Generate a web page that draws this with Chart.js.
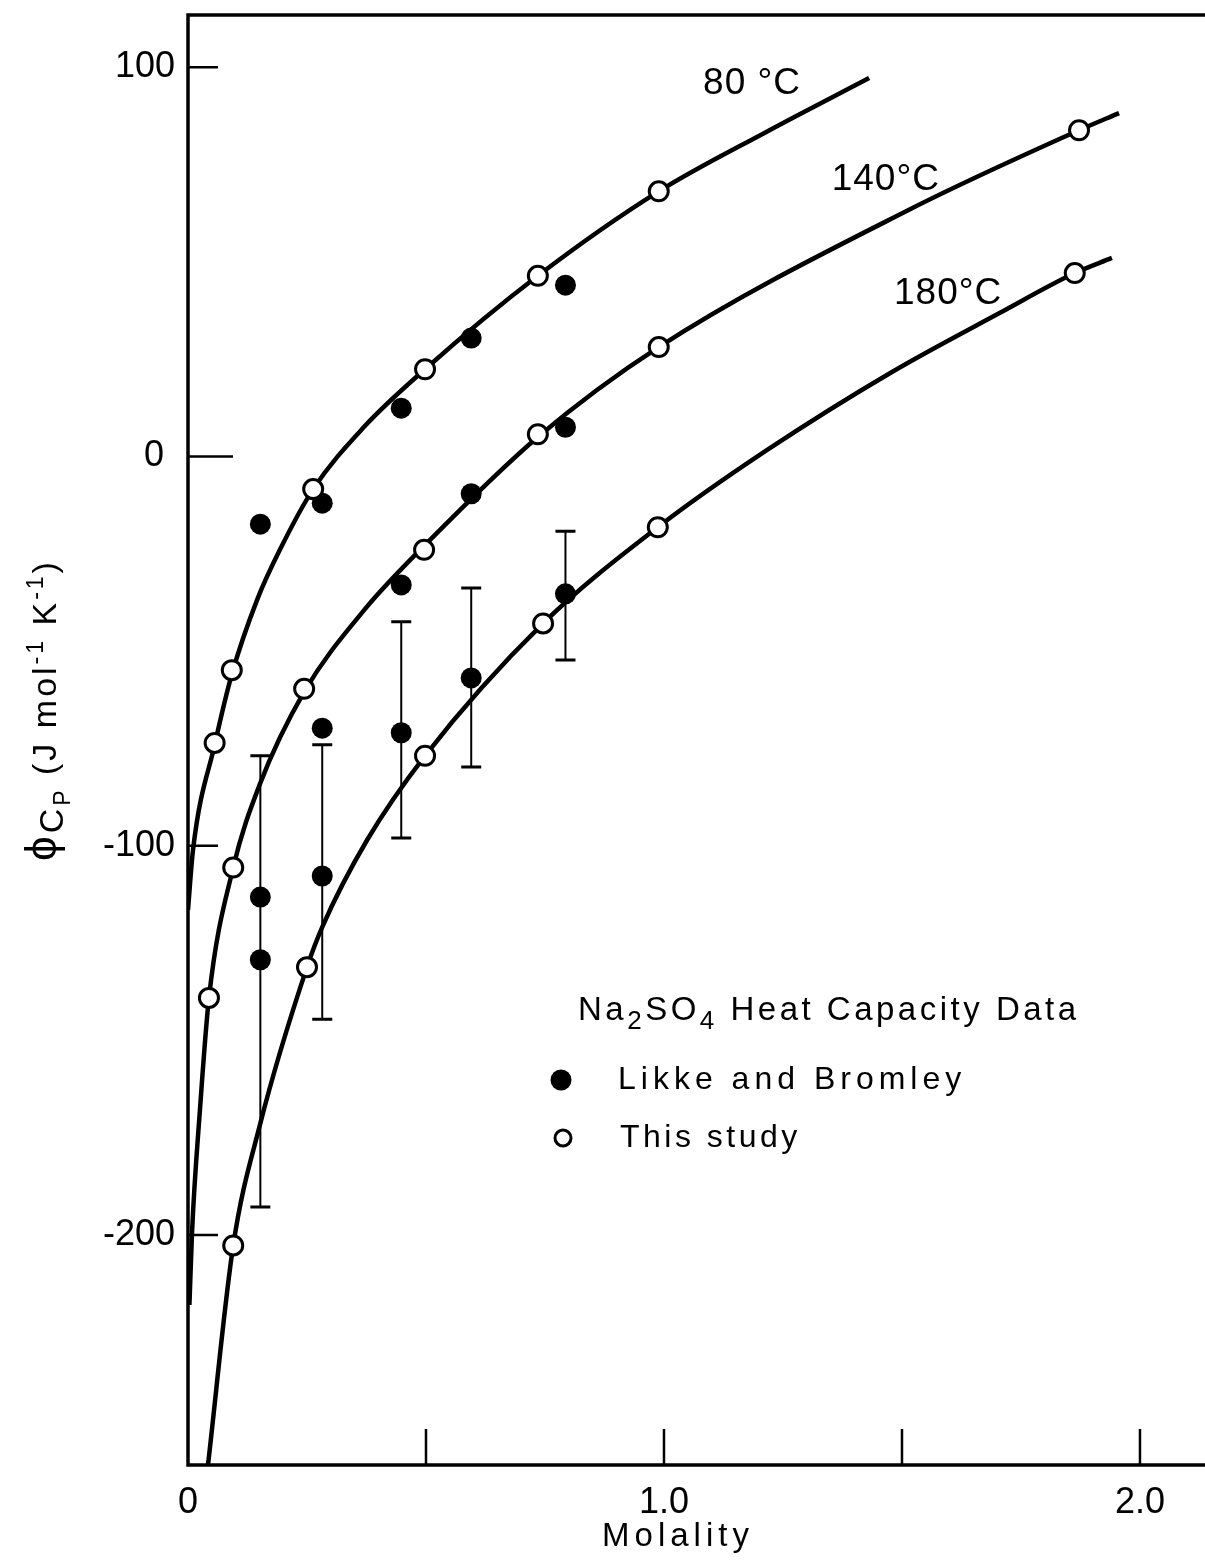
<!DOCTYPE html>
<html>
<head>
<meta charset="utf-8">
<title>Na2SO4 heat capacity</title>
<script src="https://cdn.jsdelivr.net/npm/chart.js@4.4.0/dist/chart.umd.min.js"></script>
<style>
  html, body { margin: 0; padding: 0; background: #fff; }
  #chart { display: block; }
</style>
</head>
<body>
<canvas id="chart" width="1205" height="1561" style="width:1205px;height:1561px"></canvas>
<script>
// this study (open circles)
const m80 = [0.056, 0.092, 0.263, 0.498, 0.735, 0.989];
const cp80 = [-73.6, -54.9, -8.4, 22.4, 46.4, 68.1];
const m140 = [0.044, 0.095, 0.244, 0.496, 0.735, 0.989, 1.872];
const cp140 = [-139.1, -105.6, -59.7, -24.0, 5.7, 28.1, 83.8];
const m180 = [0.095, 0.250, 0.498, 0.746, 0.987, 1.863];
const cp180 = [-202.7, -131.2, -76.9, -42.9, -18.2, 47.1];

// Likke and Bromley (filled circles)
const mLB = [0.152, 0.282, 0.448, 0.595, 0.793];
const lb80 = [-17.4, -12.0, 12.4, 30.4, 44.0];
const lb140 = [-113.2, -69.8, -33.0, -9.6, 7.5];
const lb180 = [-129.3, -107.8, -71.0, -56.9, -35.3];
const lb180Low = [-192.8, -144.6, -98.0, -79.8, -52.3];
const lb180High = [-76.9, -74.1, -42.5, -33.8, -19.2];

// fitted curves
const fitX80 = [0.0, 0.0105, 0.057, 0.092, 0.145, 0.193, 0.263, 0.37, 0.498, 0.735, 0.989, 1.214, 1.431];
const fitY80 = [-116.5, -101.1, -73.6, -56.0, -36.9, -24.0, -8.4, 7.6, 22.4, 46.4, 68.1, 83.3, 97.2];
const fitX140 = [0.003, 0.0084, 0.025, 0.044, 0.095, 0.151, 0.244, 0.37, 0.496, 0.735, 0.989, 1.517, 1.872, 1.956];
const fitY140 = [-218.0, -199.5, -168.0, -139.1, -105.6, -84.2, -60.5, -39.5, -23.0, 5.0, 28.1, 63.5, 83.8, 88.2];
const fitX180 = [0.042, 0.095, 0.151, 0.250, 0.282, 0.376, 0.498, 0.746, 0.987, 1.216, 1.479, 1.706, 1.863, 1.941];
const fitY180 = [-259.1, -202.7, -171.8, -131.2, -120.9, -98.6, -76.9, -42.9, -18.2, 1.6, 21.7, 36.9, 47.1, 51.0];

// axes
const tickX = [0.5, 1.0, 1.5, 2.0];
const tickY = [100, 0, -100, -200];
const labelXVals = [0, 1.0, 2.0];
const labelsX = ['0', '1.0', '2.0'];
const labelsY = ['100', '0', '-100', '-200'];

// curve names
const curveNames = ['80 °C', '140°C', '180°C'];
const curveNameX = [1.185, 1.466, 1.597];
const curveNameY = [95.6, 71.0, 41.7];

const FONT = '"Liberation Sans", "DejaVu Sans", Arial, sans-serif';

function toPoints(xs, ys) {
    return xs.map((x, i) => ({ x: x, y: ys[i] }));
}

function pointSet(xs, ys, filled) {
    return {
        data: toPoints(xs, ys),
        showLine: false,
        pointRadius: filled ? 10.5 : 9.5,
        pointBorderWidth: filled ? 0 : 3,
        pointBackgroundColor: filled ? '#000' : '#fff',
        pointBorderColor: '#000'
    };
}

function curveSet(xs, ys) {
    return {
        data: toPoints(xs, ys),
        showLine: true,
        borderColor: '#000',
        borderWidth: 4.5,
        pointRadius: 0,
        cubicInterpolationMode: 'monotone',
        fill: false
    };
}

// draws text pieces one after another, each with its own size and baseline shift
function drawPieces(ctx, pieces, x, y, spacing) {
    let cx = x;
    pieces.forEach(p => {
        ctx.font = p.size + 'px ' + FONT;
        ctx.letterSpacing = spacing + 'px';
        ctx.fillText(p.t, cx, y + (p.dy || 0));
        cx += ctx.measureText(p.t).width;
    });
    return cx;
}

function piecesWidth(ctx, pieces, spacing) {
    let w = 0;
    pieces.forEach(p => {
        ctx.font = p.size + 'px ' + FONT;
        ctx.letterSpacing = spacing + 'px';
        w += ctx.measureText(p.t).width;
    });
    return w;
}

const framePlugin = {
    id: 'frame',
    beforeDatasetsDraw(chart) {
        const ctx = chart.ctx;
        const a = chart.chartArea;
        const xs = chart.scales.x;
        const ys = chart.scales.y;
        ctx.save();
        ctx.strokeStyle = '#000';
        ctx.lineCap = 'butt';

        // box: top, left, bottom
        ctx.lineWidth = 3.5;
        ctx.beginPath();
        ctx.moveTo(a.right, a.top);
        ctx.lineTo(a.left, a.top);
        ctx.lineTo(a.left, a.bottom);
        ctx.lineTo(a.right, a.bottom);
        ctx.stroke();

        // inward ticks
        ctx.lineWidth = 2.5;
        ctx.beginPath();
        tickX.forEach(v => {
            const px = xs.getPixelForValue(v);
            ctx.moveTo(px, a.bottom);
            ctx.lineTo(px, a.bottom - 36);
        });
        tickY.forEach(v => {
            const py = ys.getPixelForValue(v);
            ctx.moveTo(a.left, py);
            ctx.lineTo(a.left + (v === 0 ? 45 : 30), py);
        });
        ctx.stroke();

        // error bars on the 180 °C Likke and Bromley points
        mLB.forEach((m, i) => {
            const px = xs.getPixelForValue(m);
            const top = ys.getPixelForValue(lb180High[i]);
            const bot = ys.getPixelForValue(lb180Low[i]);
            ctx.lineWidth = 2;
            ctx.beginPath();
            ctx.moveTo(px, top);
            ctx.lineTo(px, bot);
            ctx.stroke();
            ctx.lineWidth = 3;
            ctx.beginPath();
            ctx.moveTo(px - 10, top);
            ctx.lineTo(px + 10, top);
            ctx.moveTo(px - 10, bot);
            ctx.lineTo(px + 10, bot);
            ctx.stroke();
        });
        ctx.restore();
    },
    afterDraw(chart) {
        const ctx = chart.ctx;
        const a = chart.chartArea;
        const xs = chart.scales.x;
        const ys = chart.scales.y;
        ctx.save();
        ctx.fillStyle = '#000';

        // tick labels
        ctx.font = '36px ' + FONT;
        ctx.textBaseline = 'middle';
        ctx.textAlign = 'center';
        labelXVals.forEach((v, i) => {
            ctx.fillText(labelsX[i], xs.getPixelForValue(v), a.bottom + 38);
        });
        ctx.textAlign = 'right';
        tickY.forEach((v, i) => {
            ctx.fillText(labelsY[i], a.left - (v === 0 ? 24 : 13), ys.getPixelForValue(v));
        });

        // x title
        ctx.textAlign = 'center';
        ctx.font = '33px ' + FONT;
        ctx.letterSpacing = '5px';
        ctx.fillText('Molality', 678, a.bottom + 72);

        // curve names
        ctx.font = '37px ' + FONT;
        ctx.letterSpacing = '1px';
        curveNames.forEach((name, i) => {
            ctx.fillText(name, xs.getPixelForValue(curveNameX[i]), ys.getPixelForValue(curveNameY[i]));
        });

        // y title, rotated
        const yTitle = [
            { t: 'ϕ', size: 44 },
            { t: 'C', size: 34, dy: 7 },
            { t: 'P', size: 23, dy: 14 },
            { t: ' (J mol', size: 34 },
            { t: '-1', size: 23, dy: -13 },
            { t: ' K', size: 34 },
            { t: '-1', size: 23, dy: -13 },
            { t: ')', size: 34 }
        ];
        ctx.save();
        ctx.translate(44, 710);
        ctx.rotate(-Math.PI / 2);
        ctx.textAlign = 'left';
        ctx.textBaseline = 'alphabetic';
        const w = piecesWidth(ctx, yTitle, 3);
        drawPieces(ctx, yTitle, -w / 2, 12, 3);
        ctx.restore();

        // key
        ctx.textAlign = 'left';
        ctx.textBaseline = 'alphabetic';
        drawPieces(ctx, [
            { t: 'Na', size: 33 },
            { t: '2', size: 26, dy: 9 },
            { t: 'SO', size: 33 },
            { t: '4', size: 26, dy: 9 },
            { t: ' Heat Capacity Data', size: 33 }
        ], 578, 1020, 3.5);

        ctx.beginPath();
        ctx.arc(561, 1080, 10.5, 0, Math.PI * 2);
        ctx.fill();
        ctx.beginPath();
        ctx.lineWidth = 3;
        ctx.arc(563, 1138, 8, 0, Math.PI * 2);
        ctx.stroke();

        ctx.font = '32px ' + FONT;
        ctx.textBaseline = 'middle';
        ctx.letterSpacing = '5px';
        ctx.fillText('Likke and Bromley', 618, 1080);
        ctx.letterSpacing = '3.5px';
        ctx.fillText('This study', 620, 1138);
        ctx.restore();
    }
};

const chart = new Chart(document.getElementById('chart').getContext('2d'), {
    type: 'scatter',
    data: {
        datasets: [
            pointSet(m80, cp80, false),
            pointSet(m140, cp140, false),
            pointSet(m180, cp180, false),
            pointSet(mLB, lb80, true),
            pointSet(mLB, lb140, true),
            pointSet(mLB, lb180, true),
            curveSet(fitX80, fitY80),
            curveSet(fitX140, fitY140),
            curveSet(fitX180, fitY180)
        ]
    },
    options: {
        responsive: false,
        animation: false,
        events: [],
        layout: { autoPadding: false, padding: { left: 188, top: 15, right: 0, bottom: 96 } },
        scales: {
            x: { type: 'linear', min: 0, max: 2.1366, display: false },
            y: { type: 'linear', min: -259.1, max: 113.4, display: false }
        },
        plugins: {
            legend: { display: false },
            tooltip: { enabled: false }
        }
    },
    plugins: [framePlugin]
});
</script>
</body>
</html>
